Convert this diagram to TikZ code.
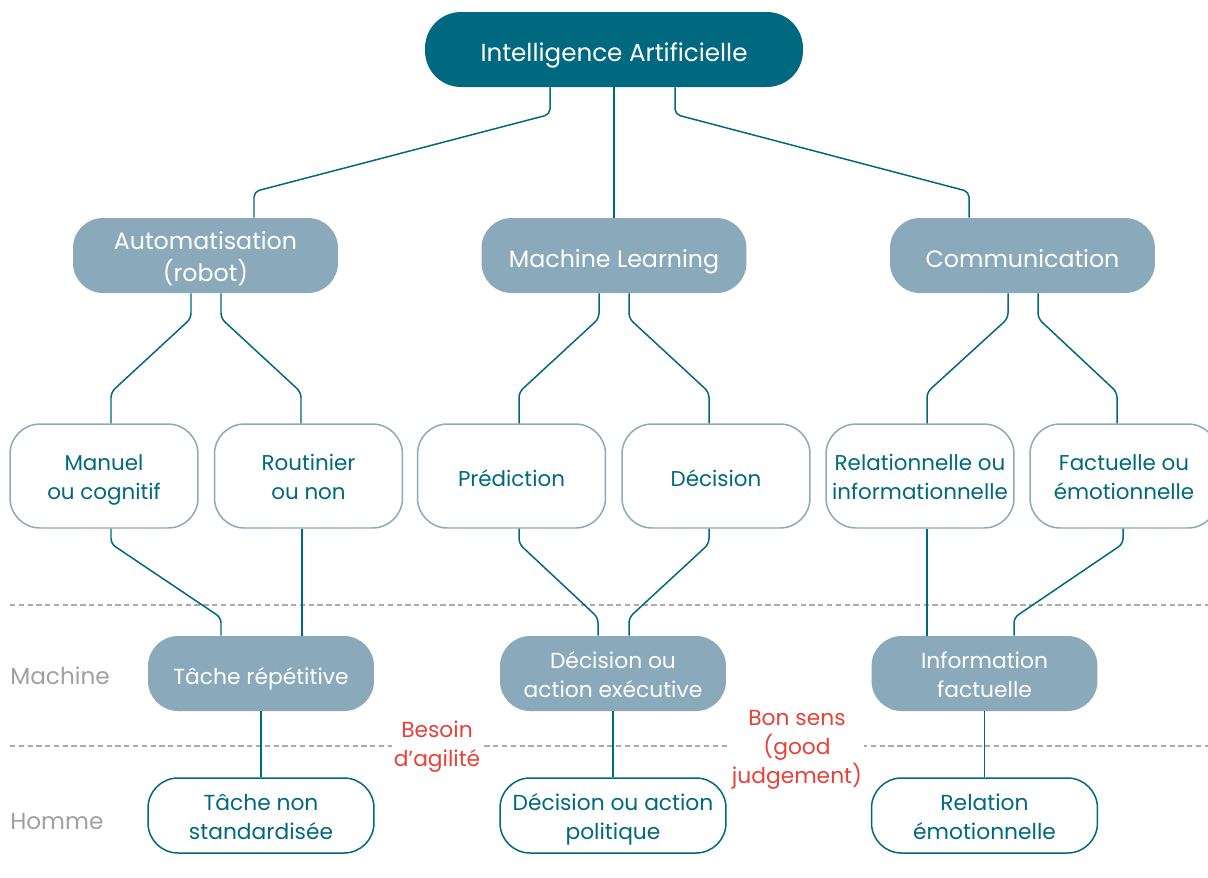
\documentclass[tikz,border=0pt]{standalone}
\usepackage{fontspec}
\setmainfont{Poppins}
\usetikzlibrary{calc}
\definecolor{teal0}{HTML}{00687F}
\definecolor{blue0}{HTML}{8AAABB}
\definecolor{gray0}{HTML}{A0A0A0}
\definecolor{dash0}{HTML}{ABABAB}
\definecolor{red0}{HTML}{E8413A}
\newcommand\myfls{\rule{0pt}{1.15em}}
\begin{document}
\begin{tikzpicture}[x=0.02cm,y=-0.02cm,
 conn/.style={draw=teal0, line width=0.85pt, rounded corners=3pt},
 dashline/.style={draw=dash0, line width=0.7pt, dash pattern=on 3pt off 2pt},
 lowtext/.style={execute at begin node={\rule{0pt}{1.3em}}, execute at end node={\rule[-0.3em]{0pt}{0pt}}},
 topbox/.style={lowtext, fill=teal0, text=white, rounded corners=0.72cm, minimum width=7.56cm, minimum height=1.5cm, inner sep=0pt, font=\fontsize{14}{18}\selectfont},
 midbox/.style={lowtext, fill=blue0, text=white, rounded corners=0.6cm, minimum width=5.3cm, minimum height=1.5cm, inner sep=0pt, align=center, font=\fontsize{13.5}{17.8}\selectfont},
 leafbox/.style={lowtext, draw=blue0, line width=0.85pt, fill=white, text=teal0, rounded corners=0.6cm, minimum width=3.76cm, minimum height=2.08cm, inner sep=0pt, align=center, font=\fontsize{12.2}{16.4}\selectfont},
 machbox/.style={midbox, minimum width=4.52cm, font=\fontsize{12.4}{16.4}\selectfont},
 hombox/.style={lowtext, draw=teal0, line width=0.85pt, fill=white, text=teal0, rounded corners=0.6cm, minimum width=4.52cm, minimum height=1.5cm, inner sep=0pt, align=center, font=\fontsize{12.4}{16.4}\selectfont},
 sidelbl/.style={text=gray0, anchor=west, inner sep=0pt, font=\fontsize{13.2}{16.4}\selectfont},
 redlbl/.style={lowtext, text=red0, fill=white, inner sep=1pt, align=center, font=\fontsize{12.4}{16.4}\selectfont}
]
\useasboundingbox (0,0) rectangle (1208,877);
% dashed separators
\draw[dashline] (10,605) -- (1208,605);
\draw[dashline] (10,746) -- (1208,746);
% nodes
\node[topbox] (ia) at (614,49.5) {Intelligence Artificielle};
\node[midbox] (auto) at (205.5,255.5) {\myfls Automatisation\\(robot)};
\node[midbox] (ml) at (614,255.5) {Machine Learning};
\node[midbox] (com) at (1022.5,255.5) {Communication};
\node[leafbox] (manuel) at (104,476) {\myfls Manuel\\ou cognitif};
\node[leafbox] (rout) at (308.5,476) {\myfls Routinier\\ou non};
\node[leafbox] (pred) at (511.5,476) {Prédiction};
\node[leafbox] (dec) at (716,476) {Décision};
\node[leafbox] (rel) at (920,476) {\myfls Relationnelle ou\\informationnelle};
\node[leafbox] (fact) at (1124,476) {\myfls Factuelle ou\\émotionnelle};
\node[machbox] (tache) at (261,673.5) {Tâche répétitive};
\node[machbox] (decex) at (613,673.5) {\myfls Décision ou\\action exécutive};
\node[machbox] (info) at (984.5,673.5) {\myfls Information\\factuelle};
\node[hombox] (tnon) at (261,815.5) {\myfls Tâche non\\standardisée};
\node[hombox] (decpol) at (613,815.5) {\myfls Décision ou action\\politique};
\node[hombox] (relemo) at (984.5,815.5) {\myfls Relation\\émotionnelle};
\node[sidelbl] (lmach) at (10,676) {Machine};
\node[sidelbl] (lhom) at (10,822) {Homme};
\node[redlbl] (besoin) at (437,743) {\myfls Besoin\\d’agilité};
\node[redlbl] (bonsens) at (797,745) {\myfls Bon sens\\(good\\judgement)};
% connectors level 1
\draw[conn] ($(ia.south)+(-64,0)$) -- ++(0,27) -- ($(auto.north)+(48.5,-26)$) -- ($(auto.north)+(48.5,0)$);
\draw[conn] (ia.south) -- (ml.north);
\draw[conn] ($(ia.south)+(61,0)$) -- ++(0,27) -- ($(com.north)+(-53.5,-26)$) -- ($(com.north)+(-53.5,0)$);
% level 2
\draw[conn] ($(auto.south)+(-14.5,0)$) -- ++(0,25) -- ($(manuel.north)+(7,-31)$) -- ($(manuel.north)+(7,0)$);
\draw[conn] ($(auto.south)+(15.5,0)$) -- ++(0,25) -- ($(rout.north)+(-7.5,-31)$) -- ($(rout.north)+(-7.5,0)$);
\draw[conn] ($(ml.south)+(-15,0)$) -- ++(0,25) -- ($(pred.north)+(7.5,-31)$) -- ($(pred.north)+(7.5,0)$);
\draw[conn] ($(ml.south)+(15,0)$) -- ++(0,25) -- ($(dec.north)+(-7,-31)$) -- ($(dec.north)+(-7,0)$);
\draw[conn] ($(com.south)+(-14.5,0)$) -- ++(0,25) -- ($(rel.north)+(7,-31)$) -- ($(rel.north)+(7,0)$);
\draw[conn] ($(com.south)+(15.5,0)$) -- ++(0,25) -- ($(fact.north)+(-7,-31)$) -- ($(fact.north)+(-7,0)$);
% level 3
\draw[conn] ($(manuel.south)+(7,0)$) -- ++(0,15) -- ($(tache.north)+(-40,-18)$) -- ($(tache.north)+(-40,0)$);
\draw[conn] ($(rout.south)+(-6.5,0)$) -- ($(tache.north)+(41,0)$);
\draw[conn] ($(pred.south)+(7.5,0)$) -- ++(0,15) -- ($(decex.north)+(-15,-18)$) -- ($(decex.north)+(-15,0)$);
\draw[conn] ($(dec.south)+(-7,0)$) -- ++(0,15) -- ($(decex.north)+(16,-18)$) -- ($(decex.north)+(16,0)$);
\draw[conn] ($(rel.south)+(7,0)$) -- ($(info.north)+(-57.5,0)$);
\draw[conn] ($(fact.south)+(-1,0)$) -- ++(0,15) -- ($(info.north)+(29.5,-18)$) -- ($(info.north)+(29.5,0)$);
% level 4
\draw[conn] (tache.south) -- (tnon.north);
\draw[conn] (decex.south) -- (decpol.north);
\draw[conn] (info.south) -- (relemo.north);
\end{tikzpicture}
\end{document}
